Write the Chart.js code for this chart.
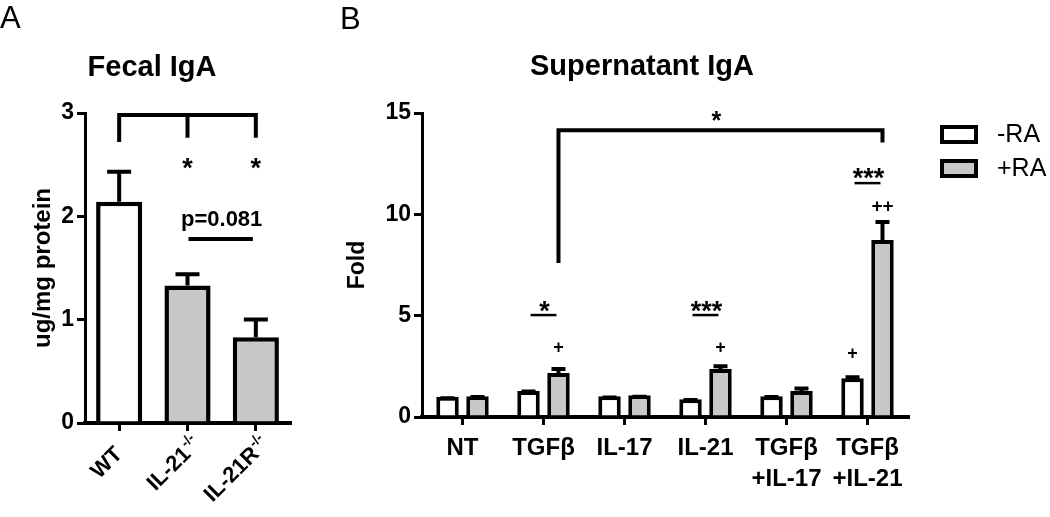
<!DOCTYPE html>
<html lang="en">
<head>
<meta charset="UTF-8" />
<title>Fecal IgA | Supernatant IgA</title>
<script src="https://cdn.jsdelivr.net/npm/chart.js"></script>
<style>
  body { margin: 0; background: #fff; }
  .panel { position: absolute; top: 0; }
  #panelA { left: 0; }
  #panelB { left: 340px; }
</style>
</head>
<body>
<canvas id="panelA" class="panel" width="340" height="517"></canvas>
<canvas id="panelB" class="panel" width="710" height="517"></canvas>

<script>
// ---- panel A: fecal IgA ----
const fecalGroups = ["WT", "IL-21", "IL-21R"];
const fecalSuper = ["", "-/-", "-/-"];
const fecalMean = [2.14, 1.33, 0.83];
const fecalSem = [0.31, 0.13, 0.19];
const fecalFill = ["#ffffff", "#c8c8c8", "#c8c8c8"];
const fecalTicks = [0, 1, 2, 3];
const fecalStars = ["", "*", "*"];
const fecalBracket = { high: 2.98, drops: [2.72, 2.76, 2.76], starAt: 2.53 };
const fecalP = { text: "p=0.081", at: 1.965, line: 1.78, from: 1, to: 2 };

// ---- panel B: supernatant IgA ----
const stimGroups = [["NT"], ["TGFβ"], ["IL-17"], ["IL-21"], ["TGFβ", "+IL-17"], ["TGFβ", "+IL-21"]];
const minusRA = [1.0, 1.28, 1.02, 0.88, 1.02, 1.91];
const minusRASem = [0.03, 0.08, 0.04, 0.06, 0.07, 0.15];
const plusRA = [1.03, 2.17, 1.07, 2.37, 1.28, 8.73];
const plusRASem = [0.05, 0.3, 0.03, 0.23, 0.22, 0.99];
const foldTicks = [0, 5, 10, 15];
const plusMarks = [
    { cat: 1, set: 1, text: "+", at: 3.5 },
    { cat: 3, set: 1, text: "+", at: 3.5 },
    { cat: 5, set: 0, text: "+", at: 3.2 },
    { cat: 5, set: 1, text: "++", at: 10.46 },
];
const pairMarks = [
    { cat: 1, text: "*", at: 5.53, line: 5.03 },
    { cat: 3, text: "***", at: 5.53, line: 5.03 },
    { cat: 5, text: "***", at: 12.09, line: 11.54 },
];
const bridge = { from: 1, to: 5, set: 1, low: 7.6, high: 14.15, drop: 13.55, text: "*", at: 14.9 };

const FONT = "'Liberation Sans', Arial, sans-serif";
const GRAY = "#c8c8c8";
Chart.defaults.font.family = FONT;
Chart.defaults.color = "#000";

// text helper: centre symbols (* and +) visually on y
function mark(ctx, text, x, y, size) {
    ctx.font = "bold " + size + "px " + FONT;
    ctx.textAlign = "center";
    ctx.textBaseline = "alphabetic";
    const lift = text[0] === "*" ? 0.56 : 0.36;
    ctx.fillText(text, x, y + lift * size);
}

function drawErrors(chart, setIndex, means, sems, cap) {
    const ctx = chart.ctx, y = chart.scales.y;
    ctx.save();
    ctx.strokeStyle = "#000";
    ctx.lineWidth = 4;
    chart.getDatasetMeta(setIndex).data.forEach((bar, i) => {
        const top = y.getPixelForValue(means[i]);
        const end = y.getPixelForValue(means[i] + sems[i]);
        ctx.beginPath();
        ctx.moveTo(bar.x, top);
        ctx.lineTo(bar.x, end);
        ctx.moveTo(bar.x - cap / 2, end + 2);
        ctx.lineTo(bar.x + cap / 2, end + 2);
        ctx.stroke();
    });
    ctx.restore();
}

function axisOpts(ticks, title, titleSize, titlePad, width) {
    return {
        min: ticks[0],
        max: ticks[ticks.length - 1],
        afterBuildTicks: (s) => { s.ticks = ticks.map((v) => ({ value: v })); },
        ticks: { color: "#000", font: { size: 23, weight: "bold" }, padding: 3 },
        grid: { drawOnChartArea: false, color: "#000", lineWidth: 3, tickLength: 8 },
        border: { color: "#000", width: 3 },
        title: { display: true, text: title, color: "#000", font: { size: titleSize, weight: "bold" }, padding: { top: titlePad, bottom: 0 } },
        afterFit: (s) => { s.width = width; },
    };
}

const fecalDecor = {
    id: "fecalDecor",
    afterDraw(chart) {
        const ctx = chart.ctx, x = chart.scales.x, y = chart.scales.y;
        drawErrors(chart, 0, fecalMean, fecalSem, 24);
        ctx.save();
        ctx.fillStyle = "#000";
        ctx.strokeStyle = "#000";

        // panel letter + title
        ctx.font = "31px " + FONT;
        ctx.textAlign = "left";
        ctx.textBaseline = "alphabetic";
        ctx.fillText("A", 0, 28);
        ctx.font = "bold 29px " + FONT;
        ctx.textAlign = "center";
        ctx.fillText("Fecal IgA", 152, 76);

        // bracket WT vs knockouts
        const xs = fecalGroups.map((g, i) => x.getPixelForValue(i));
        const hy = y.getPixelForValue(fecalBracket.high);
        ctx.lineWidth = 4;
        ctx.lineJoin = "miter";
        ctx.beginPath();
        ctx.moveTo(xs[0], y.getPixelForValue(fecalBracket.drops[0]));
        ctx.lineTo(xs[0], hy);
        ctx.lineTo(xs[2], hy);
        ctx.lineTo(xs[2], y.getPixelForValue(fecalBracket.drops[2]));
        ctx.moveTo(xs[1], hy);
        ctx.lineTo(xs[1], y.getPixelForValue(fecalBracket.drops[1]));
        ctx.stroke();
        fecalStars.forEach((s, i) => { if (s) mark(ctx, s, xs[i], y.getPixelForValue(fecalBracket.starAt), 27); });

        // p value between knockouts
        ctx.font = "bold 22px " + FONT;
        ctx.textAlign = "center";
        ctx.textBaseline = "middle";
        const px = (xs[fecalP.from] + xs[fecalP.to]) / 2;
        ctx.fillText(fecalP.text, px, y.getPixelForValue(fecalP.at));
        const ly = y.getPixelForValue(fecalP.line);
        ctx.beginPath();
        ctx.moveTo(xs[fecalP.from] + 1, ly);
        ctx.lineTo(xs[fecalP.to] - 3, ly);
        ctx.stroke();

        // rotated category labels with superscript
        fecalGroups.forEach((g, i) => {
            ctx.save();
            ctx.translate(xs[i], x.top + 28);
            ctx.rotate(-Math.PI / 4);
            ctx.textBaseline = "middle";
            ctx.textAlign = "right";
            ctx.font = "bold 22px " + FONT;
            ctx.fillText(g, 0, 0);
            if (fecalSuper[i]) {
                ctx.textAlign = "left";
                ctx.font = "bold 14px " + FONT;
                ctx.fillText(fecalSuper[i], 1, -7);
            }
            ctx.restore();
        });
        ctx.restore();
    },
};

new Chart(document.getElementById("panelA"), {
    type: "bar",
    data: {
        labels: fecalGroups,
        datasets: [{
            label: "Fecal IgA",
            data: fecalMean,
            backgroundColor: fecalFill,
            borderColor: "#000",
            borderWidth: 4.5,
            barPercentage: 0.675,
            categoryPercentage: 1,
        }],
    },
    options: {
        responsive: false,
        animation: false,
        layout: { padding: { top: 113, right: 50, left: 0, bottom: 0 } },
        plugins: { legend: { display: false }, tooltip: { enabled: false } },
        scales: {
            x: {
                ticks: { display: false },
                grid: { offset: false, drawOnChartArea: false, color: "#000", lineWidth: 3, tickLength: 8 },
                border: { color: "#000", width: 4 },
                afterFit: (s) => { s.height = 94; },
            },
            y: axisOpts(fecalTicks, "ug/mg protein", 24, 29, 85),
        },
    },
    plugins: [fecalDecor],
});

const stimDecor = {
    id: "stimDecor",
    afterDraw(chart) {
        const ctx = chart.ctx, y = chart.scales.y, area = chart.chartArea;
        drawErrors(chart, 0, minusRA, minusRASem, 14);
        drawErrors(chart, 1, plusRA, plusRASem, 14);
        const barX = (set, cat) => chart.getDatasetMeta(set).data[cat].x;
        ctx.save();
        ctx.fillStyle = "#000";
        ctx.strokeStyle = "#000";

        ctx.font = "31px " + FONT;
        ctx.textAlign = "left";
        ctx.textBaseline = "alphabetic";
        ctx.fillText("B", 0, 29);
        ctx.font = "bold 29px " + FONT;
        ctx.textAlign = "center";
        ctx.fillText("Supernatant IgA", 302, 75);

        ctx.lineWidth = 4;
        // bracket TGFβ+RA vs TGFβ+IL-21+RA
        const x0 = barX(bridge.set, bridge.from), x1 = barX(bridge.set, bridge.to);
        const hy = y.getPixelForValue(bridge.high);
        ctx.beginPath();
        ctx.moveTo(x0, y.getPixelForValue(bridge.low));
        ctx.lineTo(x0, hy);
        ctx.lineTo(x1, hy);
        ctx.lineTo(x1, y.getPixelForValue(bridge.drop));
        ctx.stroke();
        mark(ctx, bridge.text, (x0 + x1) / 2 - 4, y.getPixelForValue(bridge.at), 25);

        // -RA vs +RA within a group
        pairMarks.forEach((m) => {
            const a = barX(0, m.cat), b = barX(1, m.cat);
            const ly = y.getPixelForValue(m.line);
            ctx.lineWidth = 2.5;
            ctx.beginPath();
            ctx.moveTo(a + 2, ly);
            ctx.lineTo(b - 2, ly);
            ctx.stroke();
            mark(ctx, m.text, (a + b) / 2 + 1, y.getPixelForValue(m.at), 27);
        });
        // vs NT
        plusMarks.forEach((m) => {
            mark(ctx, m.text, barX(m.set, m.cat), y.getPixelForValue(m.at), m.text.length > 1 ? 19 : 18);
        });

        // legend
        chart.data.datasets.forEach((ds, i) => {
            const left = area.right + 34, top = 127 + i * 34;
            ctx.fillStyle = ds.backgroundColor;
            ctx.fillRect(left, top, 34, 15);
            ctx.lineWidth = 4;
            ctx.strokeRect(left, top, 34, 15);
            ctx.fillStyle = "#000";
            ctx.font = "25px " + FONT;
            ctx.textAlign = "left";
            ctx.textBaseline = "middle";
            ctx.fillText(ds.label, left + 55, top + 8);
        });
        ctx.restore();
    },
};

new Chart(document.getElementById("panelB"), {
    type: "bar",
    data: {
        labels: stimGroups,
        datasets: [
            { label: "-RA", data: minusRA, backgroundColor: "#ffffff", borderColor: "#000", borderWidth: 4 },
            { label: "+RA", data: plusRA, backgroundColor: GRAY, borderColor: "#000", borderWidth: 4 },
        ],
    },
    options: {
        responsive: false,
        animation: false,
        datasets: { bar: { barPercentage: 0.75, categoryPercentage: 0.74 } },
        layout: { padding: { top: 113, right: 142, left: 0, bottom: 0 } },
        plugins: { legend: { display: false }, tooltip: { enabled: false } },
        scales: {
            x: {
                ticks: { color: "#000", font: { size: 24, weight: "bold", lineHeight: 1.3 }, padding: 8, maxRotation: 0, autoSkip: false },
                grid: { offset: false, drawOnChartArea: false, color: "#000", lineWidth: 3, tickLength: 8 },
                border: { color: "#000", width: 4 },
                afterFit: (s) => { s.height = 100; },
            },
            y: axisOpts(foldTicks, "Fold", 23, 4, 82),
        },
    },
    plugins: [stimDecor],
});
</script>
</body>
</html>
